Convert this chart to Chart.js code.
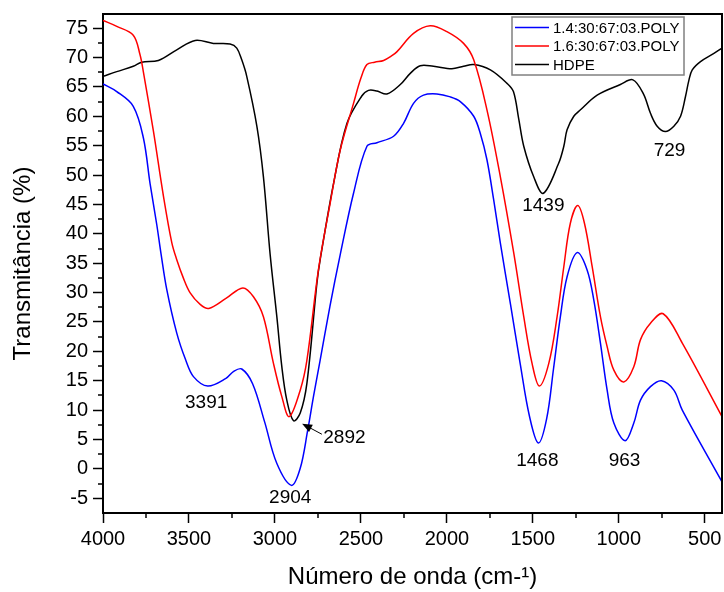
<!DOCTYPE html>
<html>
<head>
<meta charset="utf-8">
<script src="https://cdn.jsdelivr.net/npm/chart.js@4.4.1/dist/chart.umd.min.js"></script>
<style>
  html, body { margin: 0; padding: 0; background: #fff; }
</style>
</head>
<body>
<canvas id="ftir" width="724" height="592"></canvas>
<script>
// FTIR spectra, wavenumber (cm-1) vs transmittance (%)
const wn14 = [4000, 3920, 3824, 3765, 3726, 3687, 3662, 3629, 3571, 3520, 3474, 3391, 3285, 3240, 3193, 3130, 3060, 2990, 2904, 2853, 2810, 2776, 2737, 2680, 2620, 2543, 2465, 2407, 2310, 2252, 2194, 2136, 2058, 1980, 1922, 1844, 1806, 1767, 1728, 1689, 1630, 1573, 1520, 1468, 1420, 1380, 1340, 1301, 1243, 1185, 1146, 1107, 1068, 1029, 963, 913, 874, 816, 752, 680, 631, 400];
const t14 = [65.5, 64.2, 61.7, 56.3, 48.5, 41.5, 36.5, 30.5, 23.1, 18.6, 15.7, 14.1, 15.4, 16.6, 17.0, 14.5, 8.0, 1.0, -2.8, 0.1, 6.5, 12.3, 18.5, 27.7, 36.5, 46.9, 54.9, 55.5, 56.6, 58.8, 62.2, 63.6, 63.8, 63.3, 62.5, 60.0, 57.1, 52.6, 45.8, 38.4, 28.0, 17.8, 9.0, 4.4, 8.5, 17.0, 25.9, 32.7, 36.8, 33.9, 28.8, 21.4, 13.4, 7.8, 4.8, 7.8, 11.7, 14.0, 15.0, 13.4, 10.0, -2.2];

const wn16 = [4000, 3920, 3824, 3785, 3765, 3707, 3649, 3600, 3571, 3533, 3494, 3435, 3385, 3285, 3187, 3125, 3067, 3009, 2960, 2917, 2853, 2814, 2747, 2679, 2620, 2543, 2500, 2465, 2420, 2368, 2320, 2290, 2194, 2097, 2000, 1903, 1844, 1767, 1689, 1611, 1553, 1505, 1462, 1407, 1359, 1320, 1282, 1239, 1200, 1155, 1107, 1068, 1029, 971, 913, 874, 816, 742, 631, 400];
const t16 = [76.3, 75.3, 73.8, 70.5, 67.5, 57.5, 46.5, 38.5, 35.6, 32.5, 30.0, 28.0, 27.3, 29.0, 30.8, 29.3, 25.9, 18.0, 12.3, 8.9, 13.4, 18.5, 33.9, 45.2, 54.3, 62.2, 66.5, 68.8, 69.2, 69.5, 70.3, 71.0, 74.1, 75.4, 74.4, 72.4, 69.6, 61.1, 49.7, 36.7, 25.9, 18.0, 14.1, 18.0, 25.9, 34.4, 41.8, 44.8, 41.8, 34.4, 25.9, 20.8, 16.8, 14.8, 17.4, 22.0, 24.8, 26.4, 21.4, 8.9];

const wnHdpe = [4000, 3920, 3824, 3775, 3678, 3571, 3464, 3358, 3261, 3222, 3193, 3164, 3105, 3067, 3028, 2989, 2960, 2931, 2892, 2853, 2814, 2756, 2737, 2659, 2581, 2496, 2456, 2407, 2349, 2271, 2213, 2155, 2078, 1971, 1903, 1844, 1747, 1650, 1613, 1582, 1553, 1495, 1439, 1350, 1320, 1301, 1262, 1223, 1126, 991, 918, 857, 816, 777, 729, 680, 641, 612, 592, 573, 525, 447, 400];
const tHdpe = [66.8, 67.6, 68.5, 69.2, 69.5, 71.3, 72.9, 72.4, 72.3, 71.6, 69.6, 66.8, 58.3, 49.7, 36.5, 25.9, 17.4, 11.7, 8.2, 9.5, 14.6, 31.6, 35.6, 48.6, 58.8, 63.4, 64.4, 64.3, 63.8, 65.4, 67.3, 68.6, 68.5, 68.1, 68.5, 68.8, 67.9, 65.6, 64.2, 59.5, 54.9, 49.7, 46.9, 52.0, 54.9, 57.7, 60.0, 61.1, 63.6, 65.4, 66.2, 63.8, 60.5, 58.3, 57.4, 58.3, 60.0, 63.4, 66.2, 67.9, 69.3, 70.7, 71.6];

const seriesNames = ['1.4:30:67:03.POLY', '1.6:30:67:03.POLY', 'HDPE'];
const xTicks = [4000, 3500, 3000, 2500, 2000, 1500, 1000, 500];
const yTicks = [-5, 0, 5, 10, 15, 20, 25, 30, 35, 40, 45, 50, 55, 60, 65, 70, 75];

const FONT = '"Liberation Sans", Arial, sans-serif';

const pts = (xs, ys) => xs.map((x, i) => ({ x, y: ys[i] }));

// band labels, placed in data units
const bandLabels = [
  { text: '3391', x: 3400, y: 11.2 },
  { text: '2904', x: 2911, y: -4.9 },
  { text: '1468', x: 1474, y: 1.4 },
  { text: '963', x: 967, y: 1.4 },
  { text: '1439', x: 1439, y: 44.8 },
  { text: '729', x: 705, y: 54.1 }
];

const annotate = {
  id: 'annotate',
  afterDatasetsDraw(chart) {
    const { ctx, scales: { x, y } } = chart;
    ctx.save();
    ctx.fillStyle = '#000';
    ctx.font = '19px ' + FONT;
    ctx.textAlign = 'center';
    ctx.textBaseline = 'middle';
    bandLabels.forEach(l => ctx.fillText(l.text, x.getPixelForValue(l.x), y.getPixelForValue(l.y)));

    // 2892 with an arrow pointing at the HDPE minimum
    ctx.textAlign = 'left';
    ctx.fillText('2892', x.getPixelForValue(2719), y.getPixelForValue(5.3));
    const x0 = x.getPixelForValue(2727), y0 = y.getPixelForValue(5.9);
    const x1 = x.getPixelForValue(2842), y1 = y.getPixelForValue(7.7);
    const ang = Math.atan2(y1 - y0, x1 - x0);
    ctx.strokeStyle = '#000';
    ctx.lineWidth = 1;
    ctx.beginPath();
    ctx.moveTo(x0, y0);
    ctx.lineTo(x1 - 7 * Math.cos(ang), y1 - 7 * Math.sin(ang));
    ctx.stroke();
    ctx.beginPath();
    ctx.moveTo(x1, y1);
    ctx.lineTo(x1 - 10 * Math.cos(ang) + 4 * Math.sin(ang), y1 - 10 * Math.sin(ang) - 4 * Math.cos(ang));
    ctx.lineTo(x1 - 10 * Math.cos(ang) - 4 * Math.sin(ang), y1 - 10 * Math.sin(ang) + 4 * Math.cos(ang));
    ctx.closePath();
    ctx.fill();
    ctx.restore();
  }
};

// frame on top/right plus minor ticks, and the boxed legend
const frame = {
  id: 'frame',
  afterDraw(chart) {
    const { ctx, chartArea: a, scales: { x, y } } = chart;
    ctx.save();
    ctx.strokeStyle = '#000';
    ctx.lineWidth = 2;
    ctx.beginPath();
    ctx.moveTo(a.left, a.top);
    ctx.lineTo(a.right, a.top);
    ctx.lineTo(a.right, a.bottom);
    ctx.stroke();

    ctx.lineWidth = 1.5;
    ctx.beginPath();
    for (let v = 3750; v > 400; v -= 500) {
      const px = Math.round(x.getPixelForValue(v));
      ctx.moveTo(px, a.bottom);
      ctx.lineTo(px, a.bottom + 5);
    }
    for (let v = -2.5; v < 77; v += 5) {
      const py = Math.round(y.getPixelForValue(v));
      ctx.moveTo(a.left, py);
      ctx.lineTo(a.left - 5, py);
    }
    ctx.stroke();

    // legend
    const lx = a.right - 210, ly = a.top + 3, lw = 172, lh = 58;
    ctx.fillStyle = '#fff';
    ctx.fillRect(lx, ly, lw, lh);
    ctx.strokeStyle = '#808080';
    ctx.lineWidth = 1.5;
    ctx.strokeRect(lx, ly, lw, lh);
    ctx.font = '15px ' + FONT;
    ctx.textAlign = 'left';
    ctx.textBaseline = 'middle';
    chart.data.datasets.forEach((ds, i) => {
      const ry = ly + 10.5 + i * 18.5;
      ctx.strokeStyle = ds.borderColor;
      ctx.lineWidth = 1.5;
      ctx.beginPath();
      ctx.moveTo(lx + 3, ry);
      ctx.lineTo(lx + 37, ry);
      ctx.stroke();
      ctx.fillStyle = '#000';
      ctx.fillText(ds.label, lx + 41, ry + 1);
    });
    ctx.restore();
  }
};

new Chart(document.getElementById('ftir'), {
  type: 'line',
  data: {
    datasets: [
      { label: seriesNames[0], data: pts(wn14, t14), borderColor: '#0000ff' },
      { label: seriesNames[1], data: pts(wn16, t16), borderColor: '#ff0000' },
      { label: seriesNames[2], data: pts(wnHdpe, tHdpe), borderColor: '#000000' }
    ]
  },
  options: {
    responsive: false,
    animation: false,
    devicePixelRatio: 1,
    layout: { padding: { top: 14, right: 2, left: 0, bottom: 0 } },
    elements: {
      point: { radius: 0 },
      line: { borderWidth: 1.5, tension: 0.35, fill: false }
    },
    plugins: { legend: { display: false }, tooltip: { enabled: false } },
    scales: {
      x: {
        type: 'linear', reverse: true, min: 400, max: 4000,
        afterBuildTicks: s => { s.ticks = xTicks.map(v => ({ value: v })); },
        afterFit: s => { s.height = 79; s.paddingLeft = 0; s.paddingRight = 0; },
        grid: { drawOnChartArea: false, tickLength: 10, tickColor: '#000', tickWidth: 1.5 },
        border: { color: '#000', width: 2 },
        ticks: { color: '#000', font: { family: FONT, size: 20 }, padding: 4, maxRotation: 0, autoSkip: false, callback: v => String(v) },
        title: { display: true, text: 'Número de onda (cm-¹)', color: '#000', font: { family: FONT, size: 24 }, padding: { top: 1, bottom: 0 } }
      },
      y: {
        min: -7.5, max: 77.4,
        afterBuildTicks: s => { s.ticks = yTicks.map(v => ({ value: v })); },
        afterFit: s => { s.width = 103; s.paddingTop = 0; s.paddingBottom = 0; },
        grid: { drawOnChartArea: false, tickLength: 10, tickColor: '#000', tickWidth: 1.5 },
        border: { color: '#000', width: 2 },
        ticks: { color: '#000', font: { family: FONT, size: 20 }, padding: 5, autoSkip: false, callback: v => String(v) },
        title: { display: true, text: 'Transmitância (%)', color: '#000', font: { family: FONT, size: 24 }, padding: { top: 9, bottom: 0 } }
      }
    }
  },
  plugins: [annotate, frame]
});
</script>
</body>
</html>
